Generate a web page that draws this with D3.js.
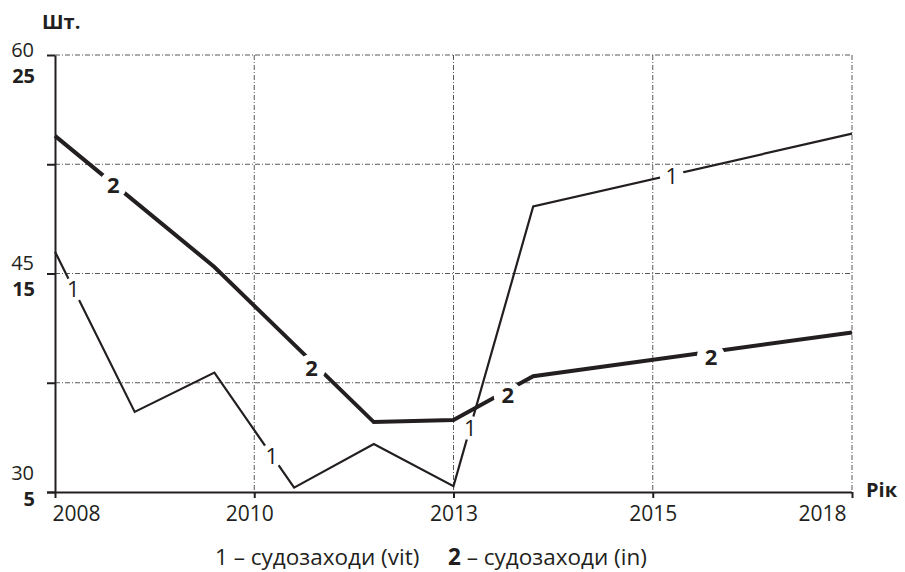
<!DOCTYPE html>
<html>
<head>
<meta charset="utf-8">
<script src="https://cdn.jsdelivr.net/npm/d3@7"></script>
<style>
  body { margin: 0; background: #fff; }
  svg { display: block; font-family: "Open Sans", "Noto Sans", sans-serif; }
  text { fill: #231f20; }
</style>
</head>
<body>
<svg id="chart"></svg>
<script>
// x axis: evenly spaced year ticks (2.5 years apart)
const tickYears = [2008, 2010.5, 2013, 2015.5, 2018];
const tickLabels = ["2008", "2010", "2013", "2015", "2018"];

// series 1 - судозаходи (vit), left scale 30..60
const vitYears = [2008, 2009, 2010, 2011, 2012, 2013, 2014, 2018];
const vitValues = [46.5, 35.5, 38.2, 30.3, 33.3, 30.4, 49.6, 54.6];
const vitTicks = [60, 52.5, 45, 37.5, 30];
const vitTickLabels = ["60", "", "45", "", "30"];

// series 2 - судозаходи (in), bold scale 5..25
const inYears = [2008, 2010, 2012, 2013, 2014, 2018];
const inValues = [21.3, 15.3, 8.2, 8.3, 10.3, 12.3];
const inTicks = [25, 20, 15, 10, 5];
const inTickLabels = ["25", "", "15", "", "5"];

// where the "1" / "2" markers sit on the lines (year, value)
const vitMarks = [[2008.23, 43.9], [2010.72, 32.5], [2013.21, 34.4], [2015.74, 51.7]];
const inMarks = [[2008.73, 19.05], [2011.22, 10.67], [2013.68, 9.44], [2016.23, 11.18]];

const width = 905, height = 572;
const svg = d3.select("#chart").attr("width", width).attr("height", height);

const x = d3.scaleLinear().domain([2008, 2018]).range([55, 852]);
const yVit = d3.scaleLinear().domain([30, 60]).range([492, 55]);
const yIn = d3.scaleLinear().domain([5, 25]).range([492, 55]);

const ink = "#231f20";
const gridColor = "#58595b";

// grid lines (dash-dot)
const grid = svg.append("g");
grid.selectAll("line.h")
  .data(vitTicks.slice(0, -1))
  .enter().append("line")
  .attr("x1", x(2008)).attr("x2", x(2018))
  .attr("y1", d => yVit(d)).attr("y2", d => yVit(d))
  .attr("stroke", gridColor).attr("stroke-width", 1)
  .attr("stroke-dasharray", "5,2,1,2");
grid.selectAll("line.v")
  .data(tickYears.slice(1))
  .enter().append("line")
  .attr("x1", d => x(d)).attr("x2", d => x(d))
  .attr("y1", yVit(60)).attr("y2", yVit(30))
  .attr("stroke", gridColor).attr("stroke-width", 1)
  .attr("stroke-dasharray", "5,2,1,2");

// axes
const yAxis = d3.axisLeft(yVit).tickValues(vitTicks).tickSize(8).tickSizeOuter(0).tickFormat("");
const gy = svg.append("g").attr("transform", "translate(55,0)").call(yAxis);
const xAxis = d3.axisBottom(x).tickValues(tickYears).tickSize(6).tickSizeOuter(0)
  .tickFormat((d, i) => tickLabels[i]);
const gx = svg.append("g").attr("transform", "translate(0,492)").call(xAxis);
[gx, gy].forEach(g => {
  g.select(".domain").attr("stroke", ink).attr("stroke-width", 2);
  g.selectAll(".tick line").attr("stroke", ink).attr("stroke-width", 2);
});
gx.select(".domain").attr("d", "M47,0.5H852");
gx.selectAll(".tick text")
  .attr("font-size", 21).attr("y", 14).attr("dy", "0.71em")
  .attr("font-family", "'Open Sans', sans-serif").attr("fill", ink)
  .attr("text-anchor", (d, i) => i === 0 ? "start" : (i === tickYears.length - 1 ? "end" : "middle"))
  .attr("dx", (d, i) => i === 0 ? -3 : (i === tickYears.length - 1 ? -6 : (i === 1 ? -5 : 0)));

// left labels: two stacked scales
const regOffsets = [2, 0, -4, 0, -12];
const boldOffsets = [28, 0, 22, 0, 14];
svg.append("g").selectAll("text")
  .data(vitTicks)
  .enter().append("text")
  .attr("x", 34).attr("y", (d, i) => yVit(d) + regOffsets[i])
  .attr("text-anchor", "end").attr("font-size", 20)
  .text((d, i) => vitTickLabels[i]);
svg.append("g").selectAll("text")
  .data(inTicks)
  .enter().append("text")
  .attr("x", 35).attr("y", (d, i) => yIn(d) + boldOffsets[i])
  .attr("text-anchor", "end").attr("font-size", 20).attr("font-weight", "bold")
  .text((d, i) => inTickLabels[i]);

svg.append("text").attr("x", 42).attr("y", 29)
  .attr("font-size", 20).attr("font-weight", "bold").text("Шт.");
svg.append("text").attr("x", 866).attr("y", 497)
  .attr("font-size", 20).attr("font-weight", "bold").text("Рік");

// masks open gaps in the lines around the markers
function gapMask(id, marks, yScale, r) {
  const m = svg.append("defs").append("mask").attr("id", id)
    .attr("maskUnits", "userSpaceOnUse")
    .attr("x", 0).attr("y", 0).attr("width", width).attr("height", height);
  m.append("rect").attr("width", width).attr("height", height).attr("fill", "#fff");
  m.selectAll("circle").data(marks).enter().append("circle")
    .attr("cx", d => x(d[0])).attr("cy", d => yScale(d[1])).attr("r", r).attr("fill", "#000");
}
gapMask("gapVit", vitMarks, yVit, 12);
gapMask("gapIn", inMarks, yIn, 14);

const lineVit = d3.line().x((d, i) => x(vitYears[i])).y(d => yVit(d));
const lineIn = d3.line().x((d, i) => x(inYears[i])).y(d => yIn(d));

svg.append("path").datum(vitValues)
  .attr("d", lineVit).attr("fill", "none")
  .attr("stroke", ink).attr("stroke-width", 2.2).attr("stroke-linejoin", "miter")
  .attr("mask", "url(#gapVit)");
svg.append("path").datum(inValues)
  .attr("d", lineIn).attr("fill", "none")
  .attr("stroke", ink).attr("stroke-width", 4).attr("stroke-linejoin", "miter")
  .attr("mask", "url(#gapIn)");

// line markers
svg.append("g").selectAll("text").data(vitMarks).enter().append("text")
  .attr("x", d => x(d[0])).attr("y", d => yVit(d[1]))
  .attr("dy", "0.36em").attr("text-anchor", "middle").attr("font-size", 22)
  .text("1");
svg.append("g").selectAll("text").data(inMarks).enter().append("text")
  .attr("x", d => x(d[0])).attr("y", d => yIn(d[1]))
  .attr("dy", "0.36em").attr("text-anchor", "middle").attr("font-size", 22)
  .attr("font-weight", "bold").text("2");

// legend
const legend = svg.append("text").attr("x", 215).attr("y", 565).attr("font-size", 22.5);
legend.append("tspan").text("1 – судозаходи (vit)");
legend.append("tspan").attr("x", 448).attr("font-weight", "bold").text("2");
legend.append("tspan").text(" – судозаходи (in)");
</script>
</body>
</html>
